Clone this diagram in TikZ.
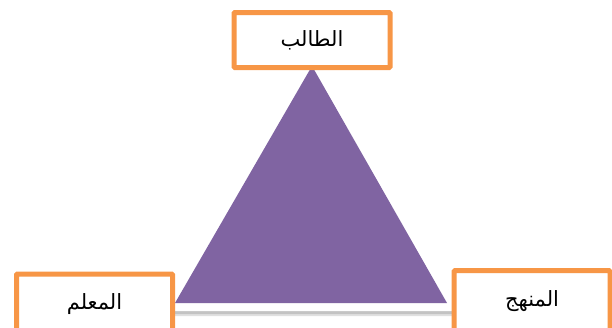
\documentclass[tikz,border=0pt]{standalone}
\usepackage{fontspec}
\newfontfamily\arabicfont[Script=Arabic]{DejaVu Sans}
\TeXXeTstate=1
\usetikzlibrary{shadows}
\definecolor{triviolet}{HTML}{8064A2}
\definecolor{boxorange}{HTML}{F79646}

\begin{document}
\begin{tikzpicture}[x=1pt, y=-1pt,
    rolebox/.style={draw=boxorange, fill=white, line width=5pt, rounded corners=1pt,
        minimum width=156pt, inner sep=0pt, font=\arabicfont\fontsize{21}{24}\selectfont}]
    \useasboundingbox (0,0) rectangle (612,327);
    % white frame with its shadow, then the purple triangle
    \fill[black!12] (312,54) -- (159,316) -- (463,316) -- cycle;
    \fill[white, drop shadow={shadow xshift=0pt, shadow yshift=-3pt, opacity=0.3}]
        (312,50) -- (161,311) -- (461,311) -- cycle;
    \fill[triviolet] (312,66) -- (175,303) -- (447,303) -- cycle;
    \node[rolebox, minimum height=55pt] (talib) at (312,40) {\beginR الطالب\endR};
    \node[rolebox, minimum height=60pt] (muallim) at (94.5,304) {\raisebox{3pt}{\beginR المعلم\endR}};
    \node[rolebox, minimum height=60pt] (manhaj) at (532,300.7) {\beginR المنهج\endR};
\end{tikzpicture}
\end{document}
